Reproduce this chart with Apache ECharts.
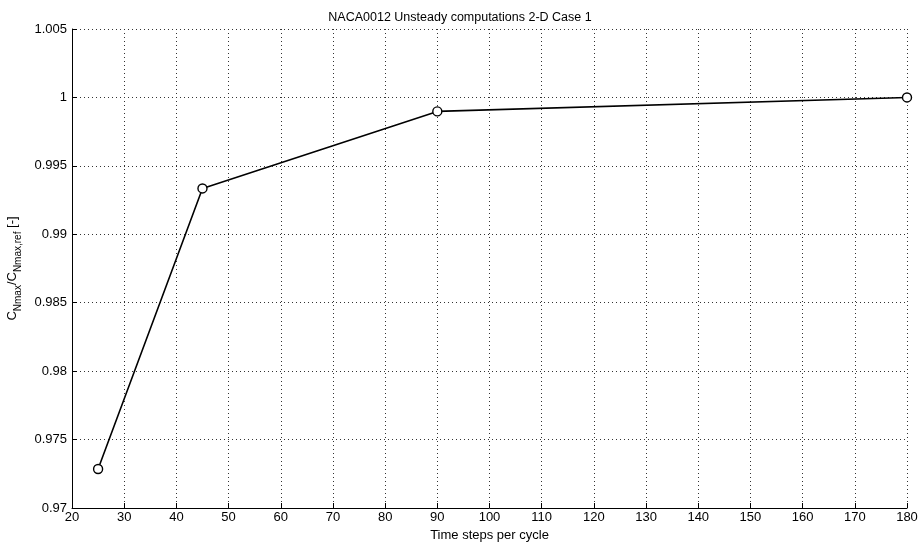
<!DOCTYPE html>
<html><head><meta charset="utf-8">
<script src="https://cdn.jsdelivr.net/npm/echarts@6/dist/echarts.min.js"></script>
<style>html,body{margin:0;padding:0;background:#fff}#c{width:920px;height:548px}</style>
</head><body><div id="c"></div>
<script>
const timeSteps = [25, 45, 90, 180];
const cnRatio = [0.97285, 0.99335, 0.99898, 1.0];
const xTicks = [20,30,40,50,60,70,80,90,100,110,120,130,140,150,160,170,180];
const yTicks = [0.97,0.975,0.98,0.985,0.99,0.995,1,1.005];
const FONT = 'Liberation Sans, Arial, sans-serif';
const chart = echarts.init(document.getElementById('c'));
chart.setOption({
  animation: false,
  backgroundColor: '#fff',
  title: {text: 'NACA0012 Unsteady computations 2-D Case 1', left: 'center', top: 6,
    textStyle: {fontFamily: FONT, fontSize: 12.5, fontWeight: 'normal', color: '#000'}},
  grid: {left: 72, right: 13, top: 29, bottom: 40, containLabel: false, outerBoundsMode: 'none'},
  xAxis: {type: 'value', min: 20, max: 180, interval: 10,
    name: 'Time steps per cycle', nameLocation: 'middle', nameGap: 19,
    nameTextStyle: {fontFamily: FONT, fontSize: 13, color: '#000'},
    axisLine: {lineStyle: {color: '#000', width: 1}},
    axisTick: {inside: true, length: 5, lineStyle: {color: '#000'}},
    axisLabel: {fontFamily: FONT, fontSize: 13, color: '#000', margin: 3},
    splitLine: {show: true, lineStyle: {type: [1,3], color: '#333', width: 1}}},
  yAxis: {type: 'value', min: 0.97, max: 1.005, interval: 0.005,
    name: '{m|C}{s|Nmax}{m|/C}{s|Nmax,ref}{m| [-]}', nameLocation: 'middle', nameGap: 46, nameRotate: 90,
    nameTextStyle: {fontFamily: FONT, color: '#000',
      rich: {m: {fontFamily: FONT, fontSize: 13, color: '#000', verticalAlign: 'top', lineHeight: 15},
             s: {fontFamily: FONT, fontSize: 10, color: '#000', verticalAlign: 'top', padding: [8,0,0,0], lineHeight: 15}}},
    axisLine: {show: true, lineStyle: {color: '#000', width: 1}},
    axisTick: {show: true, inside: true, length: 5, lineStyle: {color: '#000'}},
    axisLabel: {fontFamily: FONT, fontSize: 13, color: '#000', margin: 5,
      formatter: v => String(parseFloat(v.toFixed(3)))},
    splitLine: {show: true, lineStyle: {type: [1,3], color: '#333', width: 1}}},
  series: [{type: 'line', data: timeSteps.map((x,i)=>[x, cnRatio[i]]),
    lineStyle: {color: '#000', width: 1.6},
    symbol: 'circle', symbolSize: 9,
    itemStyle: {color: '#fff', borderColor: '#000', borderWidth: 1.4}}]
});
</script></body></html>
